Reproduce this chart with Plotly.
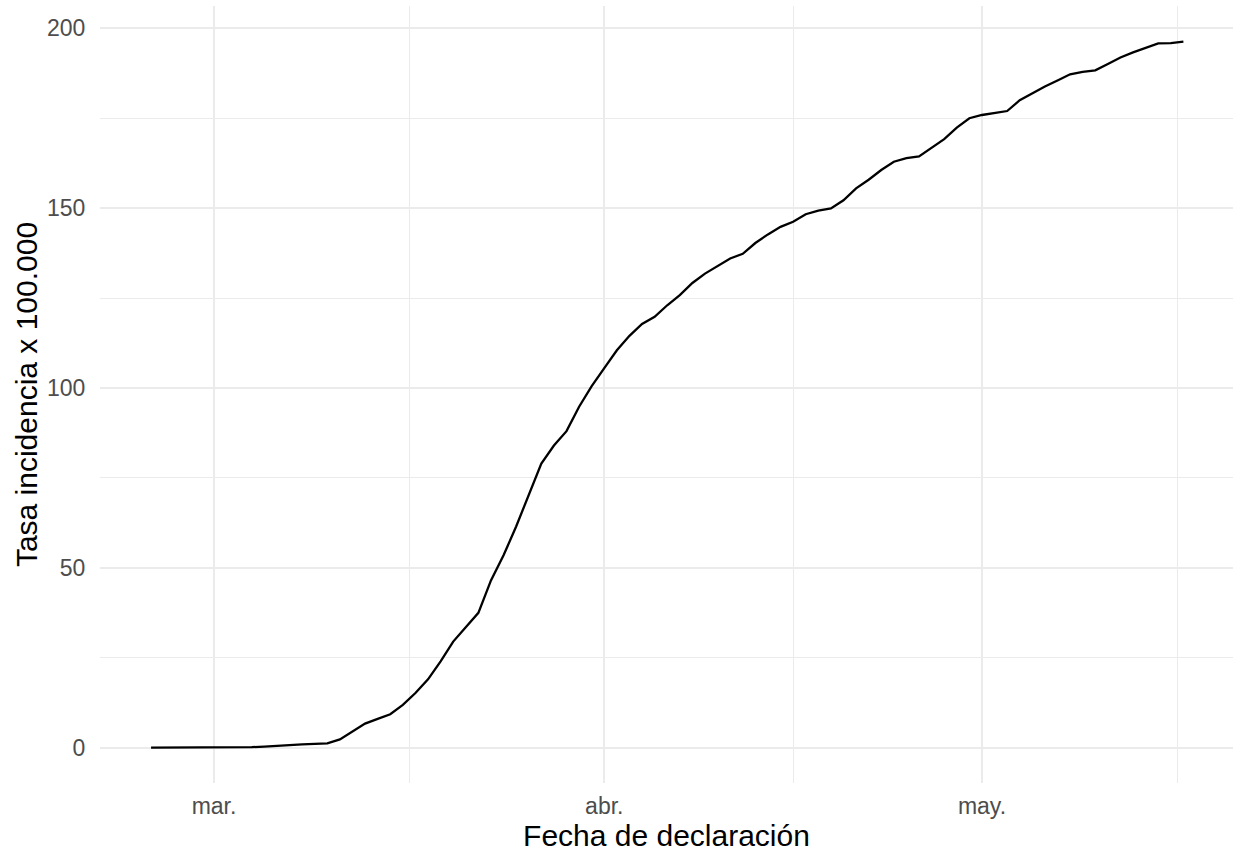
import datetime as dt
import pandas as pd
import plotly.graph_objects as go

# ---- data ----
start_date = "2020-02-25"
tasa = [
    0.0, 0.0, 0.05, 0.05, 0.1,                       # Feb 25-29
    0.1, 0.1, 0.1, 0.15, 0.3, 0.4, 0.7, 0.9, 1.0, 1.2,  # Mar 1-10
    2.3, 4.4, 6.7, 8.0, 9.3, 11.9, 15.2, 19.0, 24.0, 29.5,  # Mar 11-20
    33.5, 37.5, 46.5, 53.5, 61.5, 70.0, 79.0, 84.0, 88.0, 94.8, 100.5,  # Mar 21-31
    105.5, 110.5, 114.5, 117.8, 119.8, 123.0, 125.8, 129.2, 131.8, 134.0,  # Apr 1-10
    136.0, 137.3, 140.3, 142.7, 144.8, 146.2, 148.3, 149.3, 149.9, 152.2,  # Apr 11-20
    155.5, 157.9, 160.6, 162.9, 163.9, 164.4, 166.7, 169.2, 172.4, 175.0,  # Apr 21-30
    175.9, 176.5, 177.0, 180.0, 182.0, 183.8, 185.5, 187.2, 187.9, 188.3,  # May 1-10
    190.1, 191.9, 193.3, 194.6, 195.8, 195.9, 196.3,  # May 11-17
]
fechas = pd.date_range(start_date, periods=len(tasa), freq="D")

x_tick_vals = ["2020-03-01", "2020-04-01", "2020-05-01"]
x_tick_text = ["mar.", "abr.", "may."]
x_minor_vals = ["2020-03-16 12:00", "2020-04-16", "2020-05-16 12:00"]
y_tick_vals = [0, 50, 100, 150, 200]
y_minor_vals = [25, 75, 125, 175]

# ---- figure ----
fig = go.Figure()
fig.add_trace(go.Scatter(
    x=fechas, y=tasa, mode="lines",
    line=dict(color="black", width=2.3),
    hoverinfo="skip", showlegend=False,
))

mar1 = dt.datetime(2020, 3, 1)
may1 = dt.datetime(2020, 5, 1)
x_lo = mar1 - dt.timedelta(days=9.055)
x_hi = may1 + dt.timedelta(days=19.94)

grid_major = "#EBEBEB"
font_family = "Liberation Sans, Arial, sans-serif"

fig.update_layout(
    width=1233, height=859,
    margin=dict(l=100, r=0, t=6, b=76),
    paper_bgcolor="white", plot_bgcolor="white",
    font=dict(family=font_family, color="#4D4D4D", size=23),
    xaxis=dict(
        type="date",
        range=[x_lo, x_hi],
        tickmode="array", tickvals=x_tick_vals, ticktext=x_tick_text,
        showgrid=True, gridcolor=grid_major, gridwidth=2,
        minor=dict(tickmode="array", tickvals=x_minor_vals, showgrid=True,
                   gridcolor=grid_major, gridwidth=1),
        zeroline=False, showline=False,
        ticks="outside", ticklen=2, tickcolor="rgba(0,0,0,0)",
        tickfont=dict(size=23, color="#4D4D4D"),
        title=dict(text="Fecha de declaración",
                   font=dict(size=30, color="black"), standoff=3),
    ),
    yaxis=dict(
        range=[-9.82, 206.2],
        tickmode="array", tickvals=y_tick_vals,
        showgrid=True, gridcolor=grid_major, gridwidth=2,
        minor=dict(tickmode="array", tickvals=y_minor_vals, showgrid=True,
                   gridcolor=grid_major, gridwidth=1),
        zeroline=False, showline=False,
        ticks="outside", ticklen=9, tickcolor="rgba(0,0,0,0)",
        tickfont=dict(size=23, color="#4D4D4D"),
        title=dict(text="Tasa incidencia x 100.000",
                   font=dict(size=30, color="black"), standoff=0),
    ),
)

fig.write_html(
    "out.html",
    config={"displayModeBar": False, "staticPlot": True},
    post_script="document.body.style.margin='0';document.body.style.padding='0';",
)
